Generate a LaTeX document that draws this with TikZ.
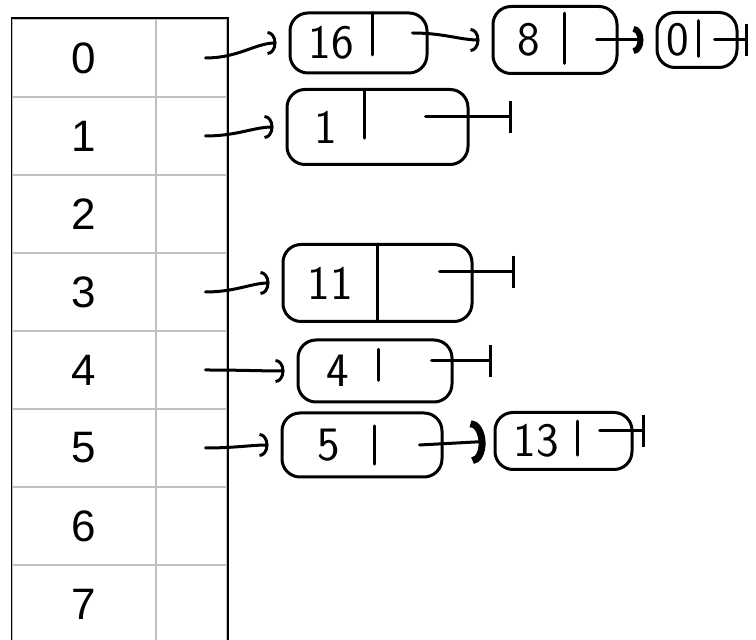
\documentclass[tikz,border=0pt]{standalone}
\usepackage{fontspec}
\setmainfont{Liberation Sans}
\usetikzlibrary{arrows.meta,calc,positioning}

\begin{document}
\begin{tikzpicture}[x=0.5pt,y=-0.5pt,
  hand/.style={line width=1.5pt,line cap=round,line join=round},
  key/.style={draw=black!25,line width=0.75pt,minimum width=72pt,minimum height=39pt,font=\fontsize{22}{26}\selectfont},
  slot/.style={key,minimum width=35.5pt},
  elem/.style={hand,draw,rounded corners=9pt},
  val/.style={font=\sffamily\fontsize{24}{28}\selectfont},
  ptr/.style={hand,-{Arc Barb[length=4.5pt,width=12pt]},shorten >=6pt},
  nul/.style={hand,-{Bar[width=16pt]}}]
\useasboundingbox (0,0) rectangle (756,640);

% hash table
\foreach \r in {0,...,7}{
  \node[key] (k\r) at (84,{58+78*\r}) {\r};
  \node[slot] (p\r) at (191.5,{58+78*\r}) {};}
\draw[line width=0.75pt] (k7.south west) rectangle (p0.north east);

% list cells: name/value/x/y/width/height/divider/top/bottom
\foreach \nm/\val/\cx/\cy/\w/\h/\f/\a/\b in {16/16/358.5/43/137/60/0.6/0/0.7,
  8/8/555/40/124/67/0.58/0.1/0.85,
  0/0/697/40/80/55/0.52/0.15/0.8,
  1/1/377.5/127/181/75/0.43/0/0.65,
  11/11/377.5/283/189/77/0.5/0/1,
  4/4/375/371/154/62/0.52/0.15/0.65,
  5/5/362/445/160/64/0.58/0.2/0.8,
  13/13/563.5/441/137/57/0.6/0.15/0.75}{
  \node[elem,minimum width=\w*0.5pt,minimum height=\h*0.5pt] (n\nm) at (\cx,\cy) {};
  \node[val] (v\nm) at ({\cx-\w/2+\f*\w/2},\cy) {\val};
  \draw[hand] ({\cx-\w/2+\f*\w},{\cy-\h/2+\a*\h}) -- ({\cx-\w/2+\f*\w},{\cy-\h/2+\b*\h});}

% buckets to first cells
\draw[ptr] ([xshift=7pt]p0.center) to[out=0,in=180] (n16.west);
\draw[ptr] ([xshift=7pt]p1.center) to[out=0,in=180] (n1.west);
\draw[ptr] ([xshift=7pt]p3.center) to[out=0,in=180] (n11.west);
\draw[ptr] ([xshift=7pt]p4.center) to[out=0,in=180] (n4.west);
\draw[ptr] ([xshift=7pt]p5.center) to[out=0,in=180] (n5.west);

% next pointers
\draw[ptr] ([xshift=-8pt,yshift=5pt]n16.east) to[out=0,in=180] (n8.west);
\draw[ptr,-{Arc Barb[length=5pt,width=14pt,line width=3pt]},shorten >=6pt] ([xshift=-11pt]n8.east) -- (n0.west);
\draw[ptr,-{Arc Barb[length=7pt,width=22pt,line width=3.5pt]},shorten >=4pt] ([xshift=-12pt]n5.east) -- (n13.west);

% null ends
\coordinate (nil0) at (748,40);
\coordinate (nil1) at (512,117);
\coordinate (nil3) at (515,272);
\coordinate (nil4) at (492,361);
\coordinate (nil13) at (645,431);
\draw[nul] ([xshift=-12pt]n0.east) -- (nil0);
\draw[nul] ([xshift=-22pt,yshift=5pt]n1.east) -- (nil1);
\draw[nul] ([xshift=-17pt,yshift=5.5pt]n11.east) -- (nil3);
\draw[nul] ([xshift=-11pt,yshift=5pt]n4.east) -- (nil4);
\draw[nul] ([xshift=-17pt,yshift=5pt]n13.east) -- (nil13);
\end{tikzpicture}
\end{document}
